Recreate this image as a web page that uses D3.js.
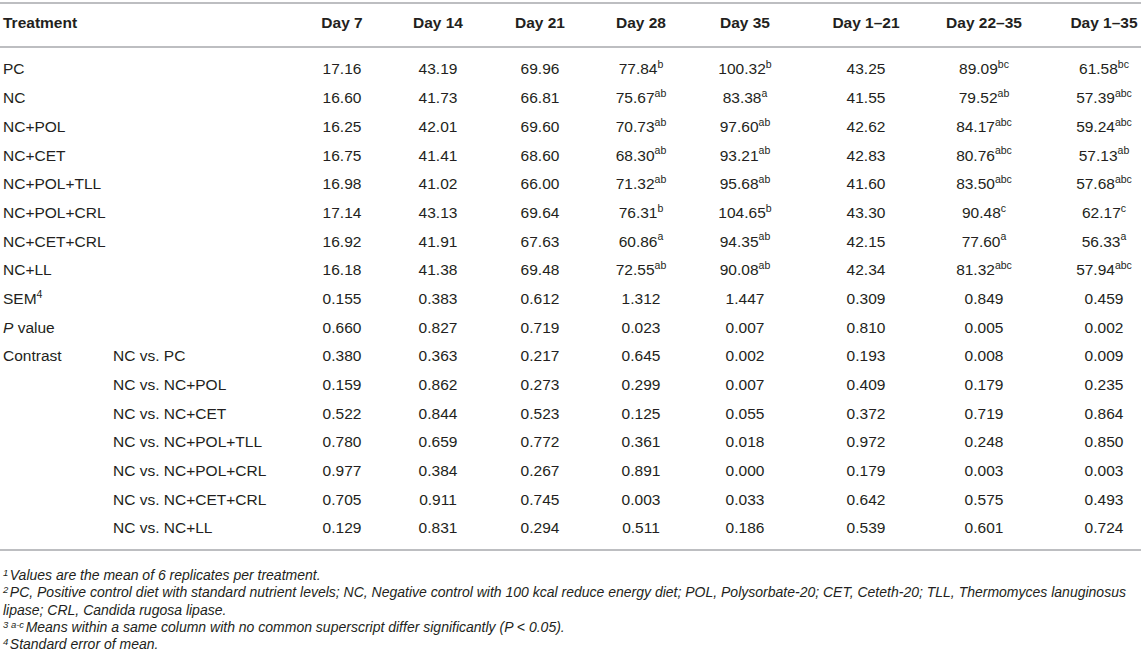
<!DOCTYPE html>
<html>
<head>
<meta charset="utf-8">
<script src="https://cdn.jsdelivr.net/npm/d3@7"></script>
<style>
  body { margin: 0; background: #fff; }
  text { font-family: "Liberation Sans", Arial, Helvetica, sans-serif; fill: #231f20; }
</style>
</head>
<body>
<div id="table"></div>
<script>
// Column headers
const columns = ["Day 7", "Day 14", "Day 21", "Day 28", "Day 35", "Day 1–21", "Day 22–35", "Day 1–35"];

// Treatment means
const treatments = ["PC", "NC", "NC+POL", "NC+CET", "NC+POL+TLL", "NC+POL+CRL", "NC+CET+CRL", "NC+LL"];
const means = [
  [17.16, 43.19, 69.96, 77.84, 100.32, 43.25, 89.09, 61.58],
  [16.60, 41.73, 66.81, 75.67, 83.38, 41.55, 79.52, 57.39],
  [16.25, 42.01, 69.60, 70.73, 97.60, 42.62, 84.17, 59.24],
  [16.75, 41.41, 68.60, 68.30, 93.21, 42.83, 80.76, 57.13],
  [16.98, 41.02, 66.00, 71.32, 95.68, 41.60, 83.50, 57.68],
  [17.14, 43.13, 69.64, 76.31, 104.65, 43.30, 90.48, 62.17],
  [16.92, 41.91, 67.63, 60.86, 94.35, 42.15, 77.60, 56.33],
  [16.18, 41.38, 69.48, 72.55, 90.08, 42.34, 81.32, 57.94]
];
const superscripts = [
  ["", "", "", "b", "b", "", "bc", "bc"],
  ["", "", "", "ab", "a", "", "ab", "abc"],
  ["", "", "", "ab", "ab", "", "abc", "abc"],
  ["", "", "", "ab", "ab", "", "abc", "ab"],
  ["", "", "", "ab", "ab", "", "abc", "abc"],
  ["", "", "", "b", "b", "", "c", "c"],
  ["", "", "", "a", "ab", "", "a", "a"],
  ["", "", "", "ab", "ab", "", "abc", "abc"]
];

// Statistics
const sem = [0.155, 0.383, 0.612, 1.312, 1.447, 0.309, 0.849, 0.459];
const pValues = [0.660, 0.827, 0.719, 0.023, 0.007, 0.810, 0.005, 0.002];

// Contrasts
const contrastLabels = ["NC vs. PC", "NC vs. NC+POL", "NC vs. NC+CET", "NC vs. NC+POL+TLL",
  "NC vs. NC+POL+CRL", "NC vs. NC+CET+CRL", "NC vs. NC+LL"];
const contrastValues = [
  [0.380, 0.363, 0.217, 0.645, 0.002, 0.193, 0.008, 0.009],
  [0.159, 0.862, 0.273, 0.299, 0.007, 0.409, 0.179, 0.235],
  [0.522, 0.844, 0.523, 0.125, 0.055, 0.372, 0.719, 0.864],
  [0.780, 0.659, 0.772, 0.361, 0.018, 0.972, 0.248, 0.850],
  [0.977, 0.384, 0.267, 0.891, 0.000, 0.179, 0.003, 0.003],
  [0.705, 0.911, 0.745, 0.003, 0.033, 0.642, 0.575, 0.493],
  [0.129, 0.831, 0.294, 0.511, 0.186, 0.539, 0.601, 0.724]
];

const width = 1143, height = 658;
const lineColor = "#a7a9ac";
const fontSize = 15.5;

const svg = d3.select("#table").append("svg")
  .attr("width", width)
  .attr("height", height);

// Build the row list from the arrays above
const fmt2 = d3.format(".2f"), fmt3 = d3.format(".3f");
const rows = [];
treatments.forEach((t, i) => rows.push({
  label: t, cells: means[i].map((v, j) => ({ text: fmt2(v), sup: superscripts[i][j] }))
}));
rows.push({ label: "SEM", labelSup: "4", cells: sem.map(v => ({ text: fmt3(v), sup: "" })) });
rows.push({ label: "P value", italicP: true, cells: pValues.map(v => ({ text: fmt3(v), sup: "" })) });
contrastLabels.forEach((c, i) => rows.push({
  label: i === 0 ? "Contrast" : "", sub: c,
  cells: contrastValues[i].map(v => ({ text: fmt3(v), sup: "" }))
}));

// Column centres and row positions
const colCenters = [342, 438, 540, 641, 745, 866, 984, 1104];
const x = d3.scaleOrdinal().domain(columns).range(colCenters);
const y = d3.scaleLinear().domain([0, rows.length - 1]).range([69, 528]);

// Rules
[3, 47, 550].forEach(yy => {
  svg.append("line")
    .attr("x1", 0).attr("x2", 1141)
    .attr("y1", yy).attr("y2", yy)
    .attr("stroke", lineColor)
    .attr("stroke-width", 1.6);
});

// Header
const header = svg.append("g").attr("font-size", fontSize).attr("font-weight", "bold");
header.append("text").attr("x", 3).attr("y", 23).attr("dy", "0.35em").text("Treatment");
header.selectAll(".col-head")
  .data(columns)
  .join("text")
  .attr("class", "col-head")
  .attr("x", d => x(d))
  .attr("y", 23)
  .attr("dy", "0.35em")
  .attr("text-anchor", "middle")
  .text(d => d);

// Body rows
const body = svg.append("g").attr("font-size", fontSize);
const row = body.selectAll(".row")
  .data(rows)
  .join("g")
  .attr("class", "row")
  .attr("transform", (d, i) => `translate(0, ${y(i)})`);

const label = row.append("text")
  .attr("x", 3)
  .attr("dy", "0.35em");
label.each(function (d) {
  const t = d3.select(this);
  if (d.italicP) {
    t.append("tspan").attr("font-style", "italic").text("P");
    t.append("tspan").text(" value");
  } else {
    t.append("tspan").text(d.label);
    if (d.labelSup) t.append("tspan").attr("font-size", 10.5).attr("dy", "-0.6em").text(d.labelSup);
  }
});

row.filter(d => d.sub)
  .append("text")
  .attr("x", 113)
  .attr("dy", "0.35em")
  .text(d => d.sub);

row.each(function (d) {
  d3.select(this).selectAll(".cell")
    .data(d.cells)
    .join("text")
    .attr("class", "cell")
    .attr("x", (c, j) => x(columns[j]))
    .attr("dy", "0.35em")
    .attr("text-anchor", "middle")
    .each(function (c) {
      const t = d3.select(this);
      t.append("tspan").text(c.text);
      if (c.sup) t.append("tspan").attr("font-size", 10.5).attr("dy", "-0.6em").text(c.sup);
    });
});

// Footnotes
const notes = [
  { sup: "1", text: "Values are the mean of 6 replicates per treatment." },
  { sup: "2", text: "PC, Positive control diet with standard nutrient levels; NC, Negative control with 100 kcal reduce energy diet; POL, Polysorbate-20; CET, Ceteth-20; TLL, Thermomyces lanuginosus" },
  { sup: "", text: "lipase; CRL, Candida rugosa lipase." },
  { sup: "3 a-c", text: "Means within a same column with no common superscript differ significantly (P < 0.05)." },
  { sup: "4", text: "Standard error of mean." }
];
const noteY = d3.scaleLinear().domain([0, notes.length - 1]).range([575, 644]);
const foot = svg.append("g").attr("font-size", 14).attr("font-style", "italic");
foot.selectAll("text")
  .data(notes)
  .join("text")
  .attr("x", 3)
  .attr("y", (d, i) => noteY(i) + 5)
  .each(function (d) {
    const t = d3.select(this);
    if (d.sup) {
      t.append("tspan").attr("font-size", 9.5).attr("dy", "-4").text(d.sup);
      t.append("tspan").attr("dy", "4").attr("dx", 1.5).text(d.text);
    } else {
      t.append("tspan").text(d.text);
    }
  });
</script>
</body>
</html>
